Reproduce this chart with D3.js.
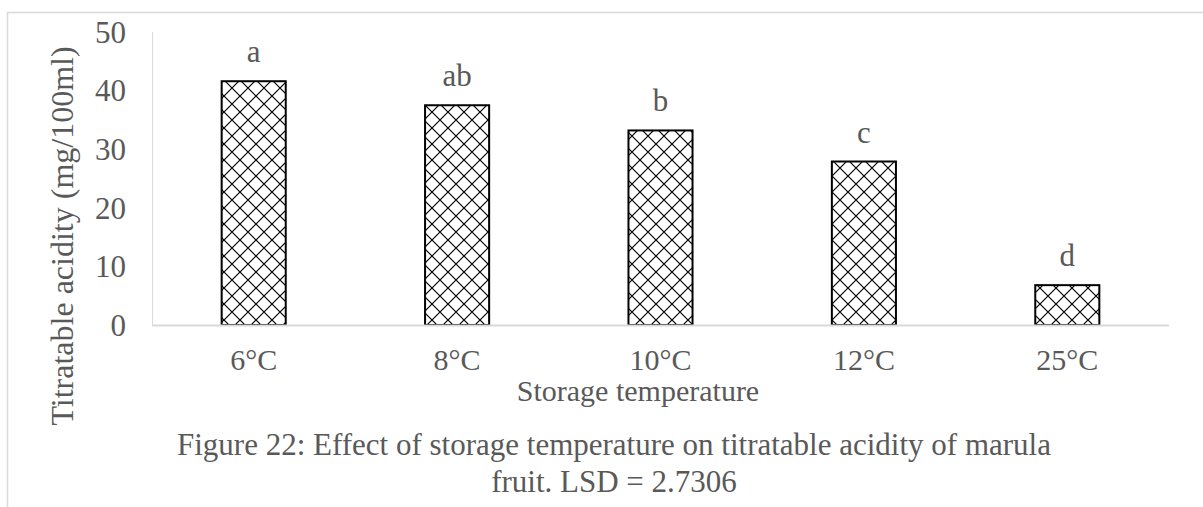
<!DOCTYPE html>
<html lang="en">
<head>
    <meta charset="UTF-8">
    <title>Titratable acidity vs storage temperature</title>
    <script src="https://d3js.org/d3.v7.min.js"></script>
    <style>
        body { margin: 0; background: #fff; }
        svg text { font-family: "Liberation Serif", "Times New Roman", serif; fill: #595959; }
    </style>
</head>
<body>
    <svg id="chart"></svg>
    <script>
        // data
        const temperatures = ["6°C", "8°C", "10°C", "12°C", "25°C"];
        const acidity = [41.6, 37.5, 33.2, 27.9, 6.8];
        const groups = ["a", "ab", "b", "c", "d"];
        const yTicks = [0, 10, 20, 30, 40, 50];

        const width = 1203, height = 507;
        const margin = { top: 32, right: 34, bottom: 182, left: 152 };

        const svg = d3.select("#chart")
            .attr("width", width)
            .attr("height", height);

        // cross hatch fill like excel's diagonal cross pattern
        const tile = 16;
        const pat = svg.append("defs").append("pattern")
            .attr("id", "hatch")
            .attr("patternUnits", "userSpaceOnUse")
            .attr("width", tile)
            .attr("height", tile);
        pat.append("rect").attr("width", tile).attr("height", tile).attr("fill", "#fff");
        pat.append("path")
            .attr("d", `M0,0L${tile},${tile}M${tile},0L0,${tile}`)
            .attr("stroke", "#000")
            .attr("stroke-width", 1.2);

        // chart frame
        svg.append("path")
            .attr("d", "M7.5,507V12.5H1203")
            .attr("fill", "none")
            .attr("stroke", "#d9d9d9")
            .attr("stroke-width", 1.5);

        const x = d3.scaleBand()
            .domain(temperatures)
            .range([margin.left, width - margin.right])
            .padding(0);

        const y = d3.scaleLinear()
            .domain([0, 50])
            .range([height - margin.bottom, margin.top]);

        const barW = x.bandwidth() * 0.315;

        // y axis line
        svg.append("line")
            .attr("x1", margin.left + 0.5).attr("x2", margin.left + 0.5)
            .attr("y1", y(50)).attr("y2", y(0))
            .attr("stroke", "#d9d9d9").attr("stroke-width", 1);

        svg.selectAll(".ytick")
            .data(yTicks)
            .join("text")
            .attr("class", "ytick")
            .attr("x", 126)
            .attr("y", d => y(d))
            .attr("dy", "0.35em")
            .attr("text-anchor", "end")
            .style("font-size", "31px")
            .text(d => d);

        svg.selectAll(".bar")
            .data(acidity)
            .join("rect")
            .attr("class", "bar")
            .attr("x", (d, i) => x(temperatures[i]) + (x.bandwidth() - barW) / 2)
            .attr("y", d => y(d))
            .attr("width", barW)
            .attr("height", d => y(0) - y(d))
            .attr("fill", "url(#hatch)")
            .attr("stroke", "#000")
            .attr("stroke-width", 2);

        // baseline
        svg.append("line")
            .attr("x1", margin.left).attr("x2", width - margin.right)
            .attr("y1", y(0) + 0.5).attr("y2", y(0) + 0.5)
            .attr("stroke", "#d9d9d9").attr("stroke-width", 2);

        svg.selectAll(".grp")
            .data(groups)
            .join("text")
            .attr("class", "grp")
            .attr("x", (d, i) => x(temperatures[i]) + x.bandwidth() / 2)
            .attr("y", (d, i) => y(acidity[i]) - 19)
            .attr("text-anchor", "middle")
            .style("font-size", "31px")
            .text(d => d);

        svg.selectAll(".xtick")
            .data(temperatures)
            .join("text")
            .attr("class", "xtick")
            .attr("x", d => x(d) + x.bandwidth() / 2)
            .attr("y", 370)
            .attr("text-anchor", "middle")
            .style("font-size", "30px")
            .text(d => d);

        svg.append("text")
            .attr("x", 638)
            .attr("y", 401)
            .attr("text-anchor", "middle")
            .style("font-size", "30px")
            .text("Storage temperature");

        svg.append("text")
            .attr("transform", "translate(73,236) rotate(-90)")
            .attr("text-anchor", "middle")
            .style("font-size", "32px")
            .text("Titratable acidity (mg/100ml)");

        const caption = svg.append("text")
            .attr("text-anchor", "middle")
            .style("font-size", "31px");
        caption.append("tspan").attr("x", 614).attr("y", 455)
            .text("Figure 22: Effect of storage temperature on titratable acidity of marula");
        caption.append("tspan").attr("x", 614).attr("y", 492)
            .text("fruit. LSD = 2.7306");
    </script>
</body>
</html>
